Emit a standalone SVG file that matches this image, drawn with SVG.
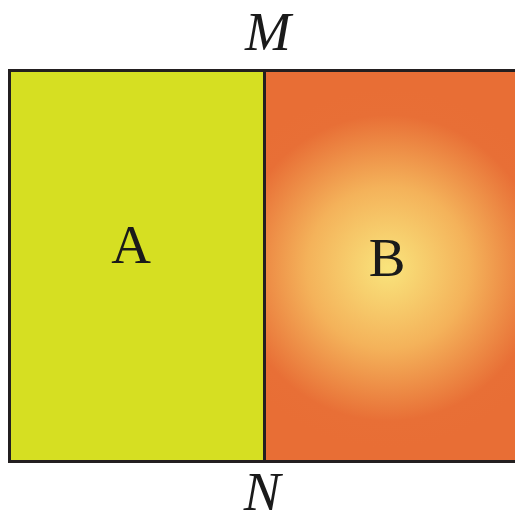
<svg xmlns="http://www.w3.org/2000/svg" width="515" height="512" viewBox="0 0 515 512">
<defs>
<radialGradient id="gB" gradientUnits="userSpaceOnUse" cx="388" cy="268" r="180">
<stop offset="0" stop-color="#f9e47c"/>
<stop offset="0.45" stop-color="#f4b25a"/>
<stop offset="0.85" stop-color="#e86f36"/>
<stop offset="1" stop-color="#e86e35"/>
</radialGradient>
<style>
.lbl{font-family:"Liberation Serif","Times New Roman",serif;font-size:55px;fill:#1a1a1a;text-anchor:middle}
.it{font-style:italic}
.edge{stroke:#231f20;stroke-width:3}
.fa{fill:#d6df22}
.fb{fill:url(#gB)}
</style>
</defs>
<g id="A">
<rect x="9.5" y="70.5" width="255" height="391" class="edge fa"/>
<text class="lbl" x="131" y="263">A</text>
</g>
<g id="B">
<rect x="264.5" y="70.5" width="260" height="391" class="edge fb"/>
<text class="lbl" x="387" y="276">B</text>
</g>
<g id="labels">
<text class="lbl it" x="268" y="50">M</text>
<text class="lbl it" x="262" y="510">N</text>
</g>
</svg>
